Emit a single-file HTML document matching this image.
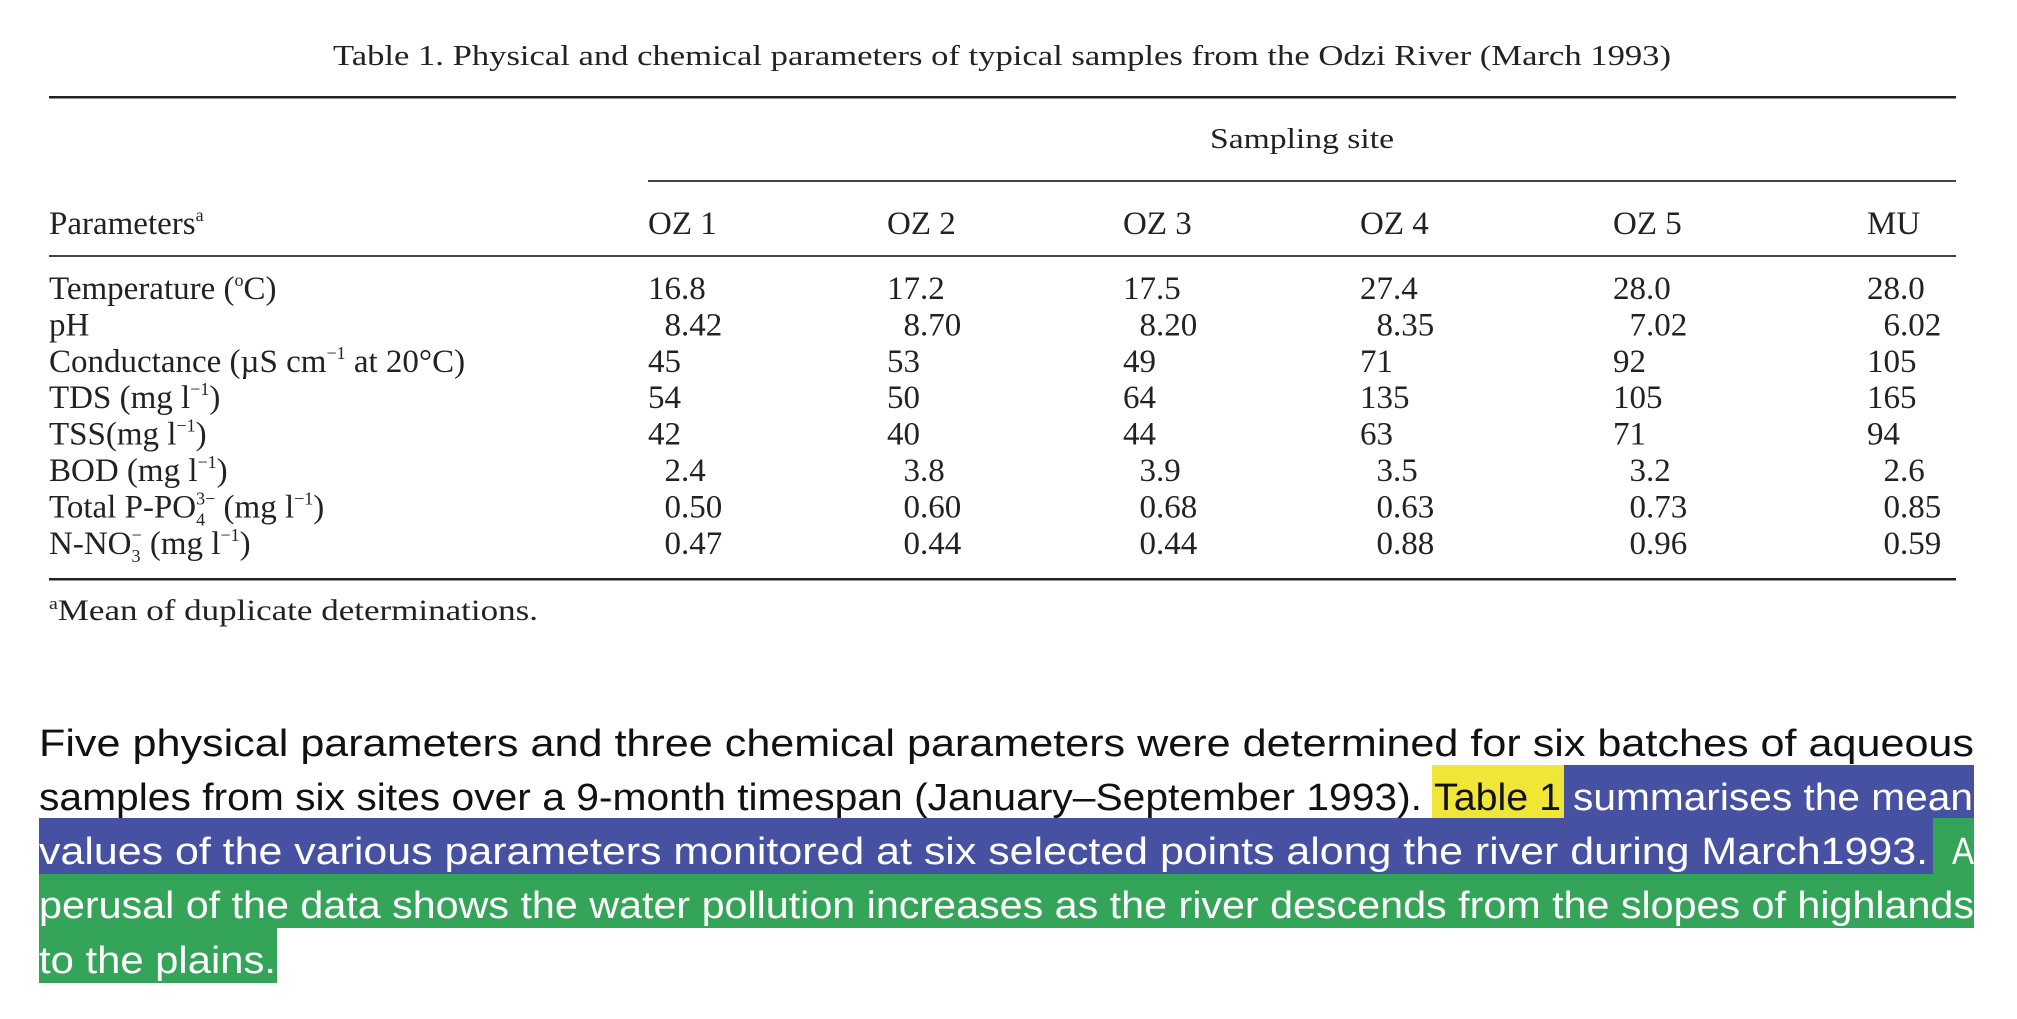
<!DOCTYPE html>
<html><head><meta charset="utf-8"><style>
html,body{margin:0;padding:0;background:#fff;}
svg{display:block;}
.s{font-family:"Liberation Serif",serif;fill:#222;}
.p{font-family:"Liberation Sans",sans-serif;font-size:38px;}
</style></head><body>
<svg width="2017" height="1019" viewBox="0 0 2017 1019">
<g>
<text class="s" x="333" y="65" font-size="29" textLength="1338" lengthAdjust="spacingAndGlyphs">Table 1.  Physical and chemical parameters of typical samples from the Odzi River (March 1993)</text>
<rect x="49" y="96" width="1907" height="2.5" fill="#222"/>
<text class="s" x="1210" y="148" font-size="29" textLength="184" lengthAdjust="spacingAndGlyphs">Sampling site</text>
<rect x="648" y="180" width="1308" height="2" fill="#444"/>
<text class="s" x="49" y="234" font-size="33">Parameters<tspan font-size="18" dy="-13">a</tspan></text>
<g id="hdr"></g>
<rect x="49" y="255" width="1907" height="2" fill="#444"/>
<g id="rows"></g>
<rect x="49" y="578" width="1907" height="2.5" fill="#222"/>
<text class="s" x="49" y="620" font-size="30" textLength="489" lengthAdjust="spacingAndGlyphs"><tspan font-size="17" dy="-11">a</tspan><tspan dy="11">Mean of duplicate determinations.</tspan></text>
</g>
<g>
<rect x="1432" y="765" width="132" height="53" fill="#efe637"/>
<rect x="1564" y="765" width="410" height="53" fill="#4651a2"/>
<rect x="39" y="818" width="1894" height="56" fill="#4651a2"/>
<rect x="1933" y="818" width="41" height="56" fill="#34a458"/>
<rect x="39" y="874" width="1935" height="54" fill="#34a458"/>
<rect x="39" y="928" width="238" height="55" fill="#34a458"/>
<text class="p" x="39" y="756" fill="#111" textLength="1935" lengthAdjust="spacingAndGlyphs">Five physical parameters and three chemical parameters were determined for six batches of aqueous</text>
<text class="p" x="39" y="810" fill="#111" textLength="1383" lengthAdjust="spacingAndGlyphs">samples from six sites over a 9-month timespan (January–September 1993).</text>
<text class="p" x="1434" y="810" fill="#111" textLength="127" lengthAdjust="spacingAndGlyphs">Table 1</text>
<text class="p" x="1573" y="810" fill="#fff" textLength="400" lengthAdjust="spacingAndGlyphs">summarises the mean</text>
<text class="p" x="39" y="864" fill="#fff" textLength="1889" lengthAdjust="spacingAndGlyphs">values of the various parameters monitored at six selected points along the river during March1993.</text>
<text class="p" x="1952" y="864" fill="#fff" textLength="22" lengthAdjust="spacingAndGlyphs">A</text>
<text class="p" x="39" y="918" fill="#fff" textLength="1935" lengthAdjust="spacingAndGlyphs">perusal of the data shows the water pollution increases as the river descends from the slopes of highlands</text>
<text class="p" x="39" y="973" fill="#fff" textLength="237" lengthAdjust="spacingAndGlyphs">to the plains.</text>
</g>
</svg>
<script>
const sites = ["OZ 1","OZ 2","OZ 3","OZ 4","OZ 5","MU"];
const params = ["Temperature","pH","Conductance","TDS","TSS","BOD","Total P-PO4","N-NO3"];
const temperature = ["16.8","17.2","17.5","27.4","28.0","28.0"];
const ph = ["8.42","8.70","8.20","8.35","7.02","6.02"];
const conductance = ["45","53","49","71","92","105"];
const tds = ["54","50","64","135","105","165"];
const tss = ["42","40","44","63","71","94"];
const bod = ["2.4","3.8","3.9","3.5","3.2","2.6"];
const phosphate = ["0.50","0.60","0.68","0.63","0.73","0.85"];
const nitrate = ["0.47","0.44","0.44","0.88","0.96","0.59"];
const values = [temperature, ph, conductance, tds, tss, bod, phosphate, nitrate];
const labels = [
 'Temperature (<tspan font-size="18" dy="-13">o</tspan><tspan dy="13">C)</tspan>',
 'pH',
 'Conductance (µS cm<tspan font-size="18" dy="-13">−1</tspan><tspan dy="13"> at 20°C)</tspan>',
 'TDS (mg l<tspan font-size="18" dy="-13">−1</tspan><tspan dy="13">)</tspan>',
 'TSS(mg l<tspan font-size="18" dy="-13">−1</tspan><tspan dy="13">)</tspan>',
 'BOD (mg l<tspan font-size="18" dy="-13">−1</tspan><tspan dy="13">)</tspan>',
 'Total P-PO<tspan font-size="18" dy="8">4</tspan><tspan font-size="18" dx="-9" dy="-21">3−</tspan><tspan dy="13"> (mg l</tspan><tspan font-size="18" dy="-13">−1</tspan><tspan dy="13">)</tspan>',
 'N-NO<tspan font-size="18" dy="8">3</tspan><tspan font-size="18" dx="-9" dy="-21">−</tspan><tspan dy="13"> (mg l</tspan><tspan font-size="18" dy="-13">−1</tspan><tspan dy="13">)</tspan>'
];
const NS="http://www.w3.org/2000/svg";
const colX = i => [648,887,1123,1360,1613,1867][i];
const rowY = r => 299 + r*36.4;
const hdr=document.getElementById('hdr');
sites.forEach((s,i)=>{
 const t=document.createElementNS(NS,'text');
 t.setAttribute('class','s');t.setAttribute('x',colX(i));t.setAttribute('y',234);t.setAttribute('font-size','33');
 t.textContent=s;
 
 
 hdr.appendChild(t);
});
const rows=document.getElementById('rows');
values.forEach((arr,r)=>{
 const l=document.createElementNS(NS,'text');
 l.setAttribute('class','s');l.setAttribute('x',49);l.setAttribute('y',rowY(r));l.setAttribute('font-size','33');
 l.innerHTML=labels[r];
 
 
 rows.appendChild(l);
 arr.forEach((v,i)=>{
  const ip=v.split('.')[0];
  const off=(ip.length===1)?16.5:0;
  const t=document.createElementNS(NS,'text');
  t.setAttribute('class','s');t.setAttribute('x',colX(i)+off);t.setAttribute('y',rowY(r));t.setAttribute('font-size','33');
  t.textContent=v;
  
  
  rows.appendChild(t);
 });
});
</script>
</body></html>
